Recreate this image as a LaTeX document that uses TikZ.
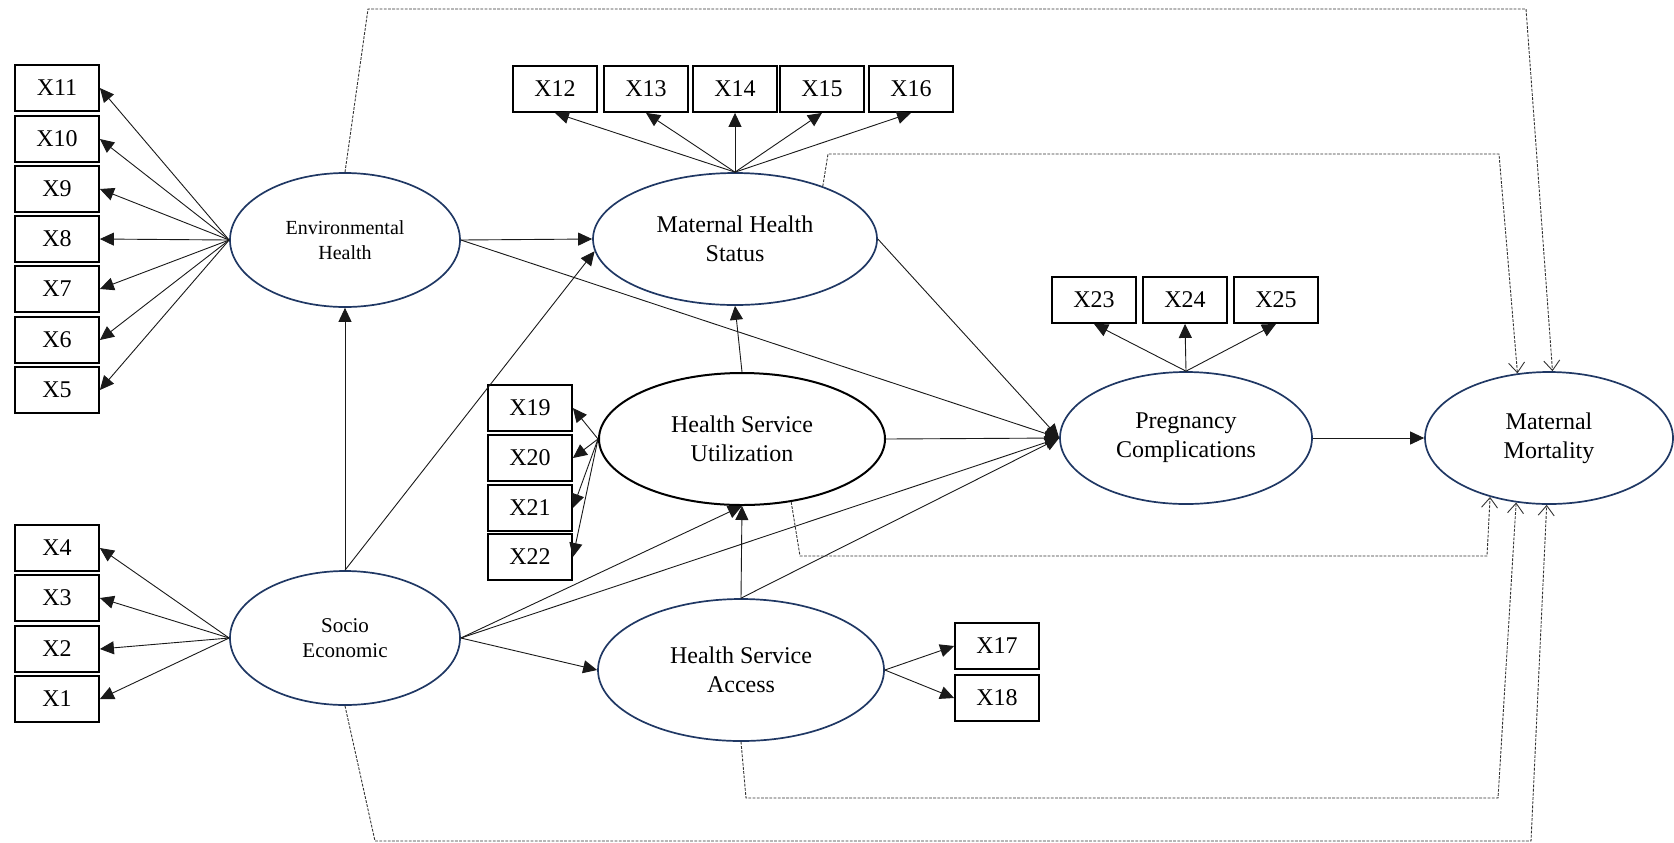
\documentclass[tikz,border=0pt]{standalone}
\usepackage{fontspec}
\setmainfont{Liberation Serif}
\usetikzlibrary{shapes.geometric,arrows.meta}
\definecolor{navy}{RGB}{32,56,100}

\begin{document}
\begin{tikzpicture}[x=.5pt,y=-.5pt,
  ind/.style={draw,line width=.9pt,minimum width=42pt,minimum height=23pt,inner sep=0pt,font=\fontsize{12pt}{14pt}\selectfont},
  lat/.style={ellipse,draw=navy,line width=.85pt,inner sep=0pt,align=center,font=\fontsize{12pt}{14.5pt}\selectfont},
  arr/.style={-{Triangle[length=7pt,width=6.5pt]},black!90,line width=.45pt},
  dir/.style={-{Straight Barb[length=5pt,width=8pt]},black!80,line width=.45pt,dash pattern=on 1.4pt off .7pt}]
\useasboundingbox (0,0) rectangle (1674,842);

\node[lat,minimum width=115pt,minimum height=67pt,font=\fontsize{10pt}{12.8pt}\selectfont] (env) at (345,240) {Environmental\\Health};
\node[lat,minimum width=115pt,minimum height=67pt,font=\fontsize{10.5pt}{12.5pt}\selectfont] (se) at (345,638) {Socio\\Economic};
\node[lat,minimum width=142pt,minimum height=66pt] (mhs) at (735,239) {Maternal Health\\Status};
\node[lat,draw=black,line width=1pt,minimum width=143pt,minimum height=66pt] (hsu) at (742,439) {Health Service\\Utilization};
\node[lat,minimum width=143pt,minimum height=71pt] (hsa) at (741,670) {Health Service\\Access};
\node[lat,minimum width=126pt,minimum height=66pt] (pc) at (1186,438) {Pregnancy\\Complications};
\node[lat,minimum width=124pt,minimum height=66pt] (mm) at (1549,438) {Maternal\\Mortality};

\foreach \n/\y in {11/88,10/139,9/189,8/239,7/289,6/340,5/390,4/548,3/598,2/649,1/699}
  \node[ind] (x\n) at (57,\y) {X\n};
\foreach \n/\x in {12/555,13/646,14/735,15/822,16/911}
  \node[ind] (x\n) at (\x,89) {X\n};
\foreach \n/\y in {19/408,20/458,21/508,22/557}
  \node[ind] (x\n) at (530,\y) {X\n};
\node[ind] (x17) at (997,646) {X17};
\node[ind] (x18) at (997,698) {X18};
\foreach \n/\x in {23/1094,24/1185,25/1276}
  \node[ind] (x\n) at (\x,300) {X\n};

\foreach \n in {5,...,11} \draw[arr] (env.west) -- (x\n.east);
\foreach \n in {1,...,4} \draw[arr] (se.west) -- (x\n.east);
\foreach \n in {12,...,16} \draw[arr] (mhs.north) -- (x\n.south);
\foreach \n in {19,...,22} \draw[arr] (hsu.west) -- (x\n.east);
\foreach \n in {17,18} \draw[arr] (hsa.east) -- (x\n.west);
\foreach \n in {23,24,25} \draw[arr] (pc.north) -- (x\n.south);

\draw[arr] (se.north) -- (env.south);
\draw[arr] (se.north) -- (mhs.185);
\draw[arr] (env.east) -- (mhs.west);
\draw[arr] (env.east) -- (pc.west);
\draw[arr] (mhs.east) -- (pc.west);
\draw[arr] (hsu.north) -- (mhs.south);
\draw[arr] (hsu.east) -- (pc.west);
\draw[arr] (se.east) -- (hsu.south);
\draw[arr] (se.east) -- (pc.west);
\draw[arr] (se.east) -- (hsa.west);
\draw[arr] (hsa.north) -- (hsu.south);
\draw[arr] (hsa.north) -- (pc.west);
\draw[arr] (pc.east) -- (mm.west);

\draw[dir] (env.north) -- (368,9) -- (1526,9) -- (mm.87);
\draw[dir] (mhs.31) -- (828,154) -- (1499,154) -- (mm.116);
\draw[dir] (hsu.308) -- (800,556) -- (1487,556) -- (mm.225);
\draw[dir] (hsa.south) -- (746,798) -- (1498,798) -- (mm.243);
\draw[dir] (se.south) -- (375,841) -- (1531,841) -- (mm.268);
\end{tikzpicture}
\end{document}
